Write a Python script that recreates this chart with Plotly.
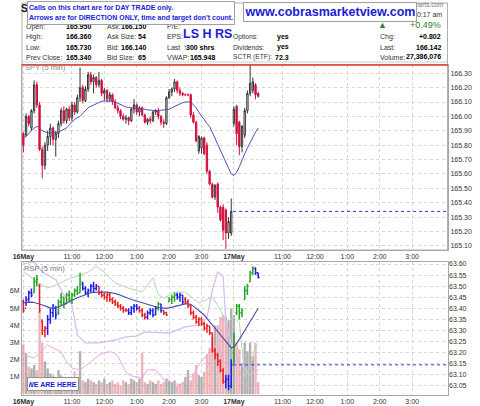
import plotly.graph_objects as go

# ---------------- data ----------------
# SPY 5-min bars, 16 May (78 bars) + 17 May (first 10 bars)
spy_open = [165.88,165.87,166.00,165.92,166.04,166.22,166.08,165.77,165.66,165.80,
            165.86,165.92,165.84,165.88,165.95,166.04,165.97,166.05,165.99,166.08,
            166.03,166.13,166.20,166.11,166.19,166.29,166.24,166.27,166.22,166.25,
            166.16,166.18,166.12,166.15,166.10,166.06,166.04,166.00,165.98,165.99,
            165.97,166.05,166.08,166.03,166.06,166.01,165.96,165.98,165.97,166.03,
            166.04,166.00,165.96,165.95,166.13,166.17,166.19,166.24,166.18,166.16,
            166.15,166.15,166.15,166.01,165.96,165.76,165.78,165.85,165.80,165.62,
            165.53,165.44,165.53,165.37,165.37,165.35,165.19,165.19,
            165.95,166.07,165.96,165.79,165.87,166.04,166.16,166.18,166.22,166.16]
spy_high = [165.89,166.02,166.01,166.05,166.25,166.24,166.10,165.79,165.82,165.90,
            165.95,165.93,165.90,165.97,166.06,166.07,166.06,166.07,166.10,166.10,
            166.15,166.34,166.22,166.21,166.31,166.31,166.29,166.28,166.31,166.26,
            166.20,166.19,166.17,166.16,166.12,166.08,166.05,166.02,166.01,166.00,
            166.06,166.12,166.09,166.07,166.07,166.02,165.99,166.00,166.04,166.05,
            166.06,166.01,165.98,166.14,166.19,166.20,166.26,166.25,166.20,166.17,
            166.16,166.16,166.16,166.03,165.97,165.87,165.86,165.86,165.82,165.63,
            165.54,165.53,165.54,165.38,165.39,165.36,165.30,165.43,
            166.07,166.08,165.97,165.94,166.06,166.18,166.36,166.27,166.23,166.17]
spy_low = [165.75,165.86,165.93,165.90,166.02,166.06,165.76,165.57,165.63,165.76,
           165.80,165.80,165.72,165.85,165.93,165.95,165.95,165.97,165.97,166.01,
           166.02,166.10,166.09,166.10,166.17,166.22,166.16,166.20,166.20,166.14,
           166.11,166.10,166.10,166.08,166.05,166.02,165.98,165.97,165.95,165.94,
           165.96,166.02,166.01,166.00,166.00,165.95,165.94,165.95,165.96,166.01,
           165.98,165.94,165.92,165.94,166.12,166.14,166.17,166.16,166.14,166.14,
           166.14,166.14,165.99,165.95,165.82,165.74,165.74,165.73,165.60,165.52,
           165.43,165.42,165.33,165.27,165.14,165.08,165.15,165.17,
           165.93,165.80,165.73,165.75,165.85,166.02,166.14,166.16,166.12,166.13]
spy_close = [165.80,166.00,165.95,166.04,166.22,166.08,165.77,165.66,165.80,165.86,
             165.92,165.84,165.88,165.95,166.04,165.97,166.05,165.99,166.08,166.03,
             166.13,166.20,166.11,166.19,166.29,166.24,166.27,166.22,166.25,166.16,
             166.18,166.12,166.15,166.10,166.06,166.04,166.00,165.98,165.99,165.97,
             166.05,166.08,166.03,166.06,166.01,165.96,165.98,165.97,166.03,166.04,
             166.00,165.96,165.95,166.13,166.17,166.19,166.24,166.18,166.16,166.15,
             166.15,166.15,166.01,165.96,165.83,165.86,165.85,165.74,165.62,165.53,
             165.44,165.52,165.37,165.28,165.21,165.19,165.27,165.34,
             166.05,165.88,165.79,165.93,166.04,166.16,166.23,166.24,166.15,166.14]
spy_ma = [165.85,165.86,165.88,165.90,165.92,165.93,
          165.92,165.90,165.89,165.885,165.885,165.885,165.885,
          165.89,165.90,165.91,165.92,165.94,165.96,165.98,165.99,
          166.00,166.02,166.04,166.06,166.07,166.08,166.09,166.10,166.105,
          166.107,166.108,166.108,166.107,166.10,166.09,166.08,166.07,
          166.065,166.062,166.06,166.058,166.058,166.058,166.055,166.05,166.045,166.042,
          166.04,166.04,166.04,166.042,166.045,166.045,166.05,166.06,166.07,166.08,
          166.09,166.095,166.10,166.10,166.10,166.08,166.06,166.03,
          166.00,165.98,165.95,165.93,165.89,165.85,165.81,165.77,165.73,165.68,165.64,165.60,
          165.59,165.61,165.65,165.70,165.74,165.78,165.82,165.86,165.89,165.92]
spy_prev_close = 165.34

# RSP 5-min bars
rsp_open = [63.43,63.40,63.44,63.47,63.47,63.52,63.50,63.34,63.30,63.31,
            63.35,63.38,63.40,63.38,63.43,63.45,63.42,63.46,63.44,63.46,
            63.48,63.47,63.51,63.49,63.47,63.48,63.50,63.49,63.50,63.47,
            63.46,63.45,63.46,63.44,63.43,63.42,63.41,63.40,63.39,63.39,
            63.38,63.40,63.41,63.40,63.39,63.37,63.36,63.38,63.39,63.37,
            63.40,63.42,63.39,63.38,63.43,63.44,63.45,63.46,63.45,63.46,
            63.44,63.43,63.41,63.38,63.36,63.34,63.35,63.33,63.31,63.32,
            63.29,63.21,63.19,63.16,63.12,63.07,63.08,63.05,
            63.20,63.38,63.41,63.38,63.44,63.48,63.52,63.56,63.58,63.56]
rsp_high = [63.44,63.455,63.48,63.49,63.54,63.55,63.51,63.35,63.32,63.37,
            63.40,63.42,63.41,63.44,63.47,63.45,63.47,63.48,63.47,63.49,
            63.50,63.56,63.52,63.50,63.49,63.51,63.52,63.51,63.50,63.48,
            63.47,63.47,63.47,63.45,63.44,63.43,63.42,63.41,63.40,63.40,
            63.41,63.42,63.42,63.41,63.40,63.38,63.39,63.40,63.40,63.41,
            63.43,63.42,63.39,63.385,63.45,63.46,63.47,63.47,63.47,63.46,
            63.45,63.44,63.42,63.39,63.37,63.36,63.36,63.34,63.33,63.32,
            63.29,63.22,63.20,63.17,63.13,63.10,63.10,63.17,
            63.29,63.42,63.42,63.40,63.50,63.51,63.57,63.59,63.585,63.56]
rsp_low = [63.38,63.41,63.43,63.45,63.47,63.50,63.38,63.28,63.27,63.28,
           63.33,63.36,63.35,63.37,63.41,63.40,63.42,63.43,63.42,63.45,
           63.46,63.47,63.48,63.46,63.45,63.47,63.47,63.48,63.46,63.45,
           63.44,63.43,63.43,63.42,63.41,63.40,63.39,63.38,63.385,63.37,
           63.37,63.38,63.39,63.38,63.36,63.35,63.35,63.37,63.36,63.37,
           63.39,63.38,63.37,63.365,63.43,63.42,63.43,63.44,63.43,63.42,
           63.42,63.40,63.37,63.35,63.33,63.32,63.32,63.30,63.29,63.28,
           63.20,63.17,63.14,63.11,63.06,63.04,63.03,63.04,
           63.15,63.37,63.35,63.36,63.44,63.46,63.52,63.55,63.55,63.535]
rsp_close = [63.39,63.44,63.47,63.46,63.52,63.53,63.39,63.30,63.31,63.35,
             63.38,63.40,63.37,63.43,63.45,63.42,63.46,63.44,63.46,63.48,
             63.47,63.52,63.49,63.47,63.48,63.50,63.49,63.50,63.47,63.46,
             63.45,63.46,63.44,63.43,63.42,63.41,63.40,63.39,63.39,63.38,
             63.40,63.41,63.40,63.39,63.37,63.36,63.38,63.39,63.37,63.40,
             63.42,63.39,63.38,63.37,63.44,63.45,63.46,63.45,63.46,63.43,
             63.43,63.41,63.38,63.36,63.34,63.35,63.33,63.31,63.32,63.29,
             63.21,63.19,63.16,63.12,63.07,63.08,63.05,63.145,
             63.27,63.41,63.38,63.39,63.48,63.50,63.56,63.58,63.56,63.54]
# impulse state of each RSP bar: g = up, r = down, b = neutral
rsp_impulse = ("rbbbggrrrb" "bbbggggggg" "ggbbbbbbrr" "rrrrrrrrrb" "bbbrrrbbbb"
               "gbrrgggbbb" "rrrrrrrrrr" "rrrrrbbb" "ggggggggbb")
rsp_ma = [63.425,63.427,63.429,63.428,63.426,63.424,63.42,63.415,63.41,63.406,
          63.402,63.40,63.402,63.406,63.412,63.418,63.424,63.43,63.437,63.444,
          63.448,63.452,63.457,63.462,63.467,63.47,63.472,63.473,63.474,63.474,
          63.474,63.473,63.472,63.47,63.467,63.463,63.458,63.453,63.447,63.444,
          63.44,63.436,63.432,63.429,63.425,63.421,63.417,63.413,63.41,63.407,
          63.404,63.402,63.40,63.40,63.402,63.405,63.408,63.412,63.415,63.418,
          63.42,63.42,63.417,63.41,63.40,63.39,63.38,63.37,63.355,63.34,
          63.325,63.31,63.295,63.28,63.265,63.25,63.235,63.222,
          63.225,63.24,63.26,63.28,63.30,63.32,63.34,63.36,63.38,63.40]
rsp_prev_close = 63.145

# volume (millions)
volume_m = [2.9,2.4,1.6,1.5,1.7,1.4,4.8,3.0,1.9,1.5,
            1.2,1.1,1.0,1.4,1.1,1.0,0.9,1.0,0.9,1.3,
            0.9,2.5,0.8,0.7,0.9,0.8,0.7,0.6,0.8,0.7,
            0.9,0.6,0.7,0.8,0.6,0.7,0.5,0.8,0.7,0.6,
            0.9,0.8,0.7,0.9,2.4,0.7,0.6,0.8,0.7,0.6,
            0.8,0.6,0.7,0.9,0.8,0.7,0.8,0.5,0.6,0.7,
            1.0,1.4,0.8,1.2,1.7,1.1,1.0,1.3,2.3,2.7,
            3.3,4.0,4.0,4.5,4.6,4.5,4.3,5.0,
            4.6,3.0,2.6,1.8,3.0,2.5,3.0,2.2,3.0,0.7]

# overlay indicator lines in the lower pane (bar index, value in M)
green_bar = [0,2,5,9,12,16,20,24,27,30,34,39,44,46,48,50,52,56,60,65,70,73,75,78,80,82,84,86,87]
green_val = [7.10,6.93,6.52,6.17,6.35,6.66,6.87,7.10,7.45,7.10,6.47,6.17,5.94,6.35,6.77,5.77,5.59,5.94,5.94,5.30,5.66,4.90,4.20,4.43,4.20,1.00,1.50,2.90,2.80]
purple_bar = [0,4,7,12,15,18,20,23,28,34,38,42,45,51,54,60,65,68,70,72,74,75,77,80,84,87]
purple_val = [7.60,7.69,7.10,6.66,5.77,5.19,3.45,2.98,2.98,3.15,3.33,3.38,3.62,3.56,3.56,3.92,4.03,4.43,6.06,7.10,6.87,4.20,2.86,1.87,1.12,1.41]
pink_bar = [0,4,9,14,16,18,21,25,28,31,33,35,38,40,44,46,49,52,58,63,65,68,70,72,74,77,80,84,87]
pink_val = [2.28,2.10,2.86,2.45,1.87,1.52,1.41,1.87,2.28,2.45,2.45,2.22,1.29,1.06,0.94,1.41,1.41,0.83,0.53,1.12,1.70,2.28,2.69,2.86,1.99,1.12,0.71,0.36,0.53]

bars_per_day = 78
tick_bars = [0, 18, 30, 42, 54, 66, 78, 96, 108, 120, 132, 144]
tick_labels = ['<b>16May</b>', '11:00', '12:00', '1:00', '2:00', '3:00',
               '<b>17May</b>', '11:00', '12:00', '1:00', '2:00', '3:00']
spy_ticks = [165.10,165.20,165.30,165.40,165.50,165.60,165.70,165.80,165.90,166.00,166.10,166.20,166.30]
rsp_ticks = [63.05,63.10,63.15,63.20,63.25,63.30,63.35,63.40,63.45,63.50,63.55,63.60]
vol_ticks = [1, 2, 3, 4, 5, 6]
vol_tick_labels = ['1M', '2M', '3M', '4M', '5M', '6M']

# ---------------- figure ----------------
W, H = 480, 406
ML, MR, MT, MB = 22, 32, 65, 11
PW, PH = W - ML - MR, H - MT - MB
FONT = 'Liberation Sans, Arial, sans-serif'
X_RANGE = [-0.5, 157.3]


def px(x):
    return (x - ML) / PW


def py(y):
    return (H - MB - y) / PH


n = len(spy_close)
bars = list(range(n))

fig = go.Figure()

# top: SPY candlesticks
fig.add_trace(go.Candlestick(
    x=bars, open=spy_open, high=spy_high, low=spy_low, close=spy_close,
    xaxis='x', yaxis='y', whiskerwidth=0,
    increasing=dict(line=dict(color='#333333', width=1), fillcolor='white'),
    decreasing=dict(line=dict(color='#d0103c', width=1), fillcolor='#d0103c'),
    hoverinfo='skip'))
fig.add_trace(go.Scatter(x=bars, y=spy_ma, mode='lines', xaxis='x', yaxis='y',
                         line=dict(color='#5050b8', width=1), hoverinfo='skip'))

# bottom: volume
vol_colors = ['rgba(150,150,150,0.75)' if c >= o else 'rgba(225,130,140,0.6)'
              for o, c in zip(spy_open, spy_close)]
fig.add_trace(go.Bar(x=bars, y=volume_m, xaxis='x2', yaxis='y2',
                     marker=dict(color=vol_colors, line=dict(width=0)), hoverinfo='skip'))
for bx, bv, col, wd in [(green_bar, green_val, '#b4d8b4', 1),
                        (purple_bar, purple_val, '#d9bdf2', 1.3),
                        (pink_bar, pink_val, '#f0a6ea', 1)]:
    fig.add_trace(go.Scatter(x=bx, y=bv, mode='lines', xaxis='x2', yaxis='y2',
                             line=dict(color=col, width=wd), hoverinfo='skip'))

# bottom: RSP price
fig.add_trace(go.Scatter(x=bars, y=rsp_ma, mode='lines', xaxis='x2', yaxis='y3',
                         line=dict(color='#4a4aae', width=1.1), hoverinfo='skip'))
impulse_colors = {'g': '#1fa51f', 'r': '#ee1c1c', 'b': '#1c1cee'}
for code, col in impulse_colors.items():
    sel = [i for i in bars if rsp_impulse[i] == code]
    fig.add_trace(go.Ohlc(
        x=sel, open=[rsp_open[i] for i in sel], high=[rsp_high[i] for i in sel],
        low=[rsp_low[i] for i in sel], close=[rsp_close[i] for i in sel],
        xaxis='x2', yaxis='y3', tickwidth=0.45,
        increasing=dict(line=dict(color=col, width=1.5)),
        decreasing=dict(line=dict(color=col, width=1.5)),
        hoverinfo='skip'))

grid = dict(showgrid=True, gridcolor='#d6d6d6', griddash='dot', gridwidth=1,
            zeroline=False, showline=True, mirror=True, linecolor='#a8a8a8', linewidth=1)
tickfont = dict(family=FONT, size=7, color='#333')

fig.update_layout(
    width=W, height=H, margin=dict(l=ML, r=MR, t=MT, b=MB),
    paper_bgcolor='white', plot_bgcolor='white', showlegend=False,
    font=dict(family=FONT, size=7, color='#222'),
    bargap=0.12,
    xaxis=dict(domain=[0, 1], range=X_RANGE, anchor='y', tickvals=tick_bars, ticktext=tick_labels,
               ticks='', tickfont=tickfont, rangeslider=dict(visible=False), automargin=False, **grid),
    yaxis=dict(domain=[(H - MB - 250) / PH, 1], range=[165.072, 166.357], side='right',
               tickvals=spy_ticks, tickformat='.2f', ticks='', tickfont=tickfont, automargin=False, **grid),
    xaxis2=dict(domain=[0, 1], range=X_RANGE, anchor='y2', matches='x', tickvals=tick_bars,
                ticktext=tick_labels, ticks='', tickfont=tickfont,
                rangeslider=dict(visible=False), automargin=False, **grid),
    yaxis2=dict(domain=[0, (H - MB - 262) / PH], range=[-0.05, 7.69], side='left', anchor='x2',
                tickvals=vol_ticks, ticktext=vol_tick_labels, ticks='', tickfont=tickfont,
                showgrid=False, zeroline=False, showline=True, mirror=True, linecolor='#a8a8a8',
                automargin=False),
    yaxis3=dict(overlaying='y2', anchor='x2', side='right', range=[63.009, 63.609],
                tickvals=rsp_ticks, tickformat='.2f', ticks='', tickfont=tickfont,
                showgrid=True, gridcolor='#d6d6d6', griddash='dot', zeroline=False,
                automargin=False),
)

shapes = [
    # outer frame
    dict(type='rect', xref='paper', yref='paper', x0=px(22), x1=px(447.5), y0=py(250), y1=py(3),
         line=dict(color='#b0b0b0', width=1), layer='below'),
    dict(type='line', xref='paper', yref='paper', x0=px(22), x1=px(447.5), y0=py(62), y1=py(62),
         line=dict(color='#cccccc', width=1)),
    # red line at top of price pane
    dict(type='line', xref='paper', yref='paper', x0=0, x1=1, y0=1, y1=1,
         line=dict(color='#e23a2e', width=1.5)),
    # previous close lines
    dict(type='line', xref='x', yref='y', x0=bars_per_day - 0.3, x1=X_RANGE[1],
         y0=spy_prev_close, y1=spy_prev_close, line=dict(color='#2f2fff', width=1, dash='dot')),
    dict(type='line', xref='x2', yref='y3', x0=bars_per_day - 0.3, x1=X_RANGE[1],
         y0=rsp_prev_close, y1=rsp_prev_close, line=dict(color='#2f2fff', width=1, dash='dot')),
]
fig.update_layout(shapes=shapes)

anns = []


def txt(s, x, y, size=7, color='#333', xa='left', bold=False, **kw):
    anns.append(dict(text=f'<b>{s}</b>' if bold else s, x=px(x), y=py(y), xref='paper', yref='paper',
                     xanchor=xa, yanchor='middle', showarrow=False,
                     font=dict(family=FONT, size=size, color=color), **kw))


# title / stamp (partly hidden behind boxes)
txt('SPY SPDR S&P 500 ETF', 19, 8, size=10, color='#111', bold=True)
txt('StockCharts.com', 446, 4, size=6.5, color='#777', xa='right')
txt('10:17 am', 444, 14, size=7, color='#333', xa='right')

rows_y = [27, 37, 47, 57]
col1_labels = ['Open:', 'High:', 'Low:', 'Prev Close:']
col1_vals = ['165.950', '166.360', '165.730', '165.340']
col2_labels = ['Ask:', 'Ask Size:', 'Bid:', 'Bid Size:']
col2_vals = ['166.150', '54', '166.140', '65']
col3_labels = ['P/E:', 'EPS:', 'Last', 'VWAP:']
col4_labels = ['', 'Options:', 'Dividends:', 'SCTR (ETF):']
col4_vals = ['', 'yes', 'yes', '72.3']
col5_labels = ['', 'Chg:', 'Last:', 'Volume:']
col5_vals = ['', '+0.802', '166.142', '27,386,076']

for k, yy in enumerate(rows_y):
    txt(col1_labels[k], 24, yy)
    txt(col1_vals[k], 93, yy, color='#000', xa='right', bold=True)
    txt(col2_labels[k], 105, yy)
    txt(col2_vals[k], 148, yy, color='#000', xa='right', bold=True)
    txt(col3_labels[k], 165, yy)
    if col4_labels[k]:
        txt(col4_labels[k], 231, yy, size=6.7)
        txt(col4_vals[k], 291, yy, color='#000', xa='right', bold=True)
    if col5_labels[k]:
        txt(col5_labels[k], 378, yy)
        txt(col5_vals[k], 443, yy, color='#000', xa='right', bold=True)

txt('↑', 181, 47, size=8, color='#2a8a2a', bold=True)
txt('300 shrs', 217, 47, color='#000', xa='right', bold=True)
txt('165.948', 217, 57, color='#000', xa='right', bold=True)
txt('LS H RS', 207, 34, size=12.5, color='#1b1bd6', xa='center', bold=True)
txt('▲', 382, 25, size=9, color='#2f7f2f', xa='center')
txt('+0.49%', 443, 25, size=9, color='#2f7f2f', xa='right')

txt('SPY (5 min)', 23, 68, size=7.5, color='#888')
txt('RSP (5 min)', 22, 268, size=7.5, color='#777')

# boxes on top
anns.append(dict(text='<b>Calls on this chart are for DAY TRADE only.<br>'
                      'Arrows are for DIRECTION ONLY, time and target don\'t count.</b>',
                 x=px(27), y=py(13), xref='paper', yref='paper', xanchor='left', yanchor='middle',
                 showarrow=False, align='left', width=204, height=20,
                 bgcolor='white', bordercolor='#a0a0a0', borderwidth=1, borderpad=1,
                 font=dict(family=FONT, size=7, color='#1b1bd6')))
anns.append(dict(text='<b>www.cobrasmarketview.com</b>',
                 x=px(330), y=py(12.5), xref='paper', yref='paper', xanchor='center', yanchor='middle',
                 showarrow=False, width=170, height=16,
                 bgcolor='white', bordercolor='#a0a0a0', borderwidth=1, borderpad=1,
                 font=dict(family=FONT, size=12.5, color='#1b1bd6')))
anns.append(dict(text='<b>WE ARE HERE!</b>',
                 x=px(53), y=py(384), xref='paper', yref='paper', xanchor='center', yanchor='middle',
                 showarrow=False, width=48, height=10,
                 bgcolor='white', bordercolor='#909090', borderwidth=1, borderpad=1,
                 font=dict(family=FONT, size=7, color='#1b1bd6')))

fig.update_layout(annotations=anns)
fig.write_html('out.html')
